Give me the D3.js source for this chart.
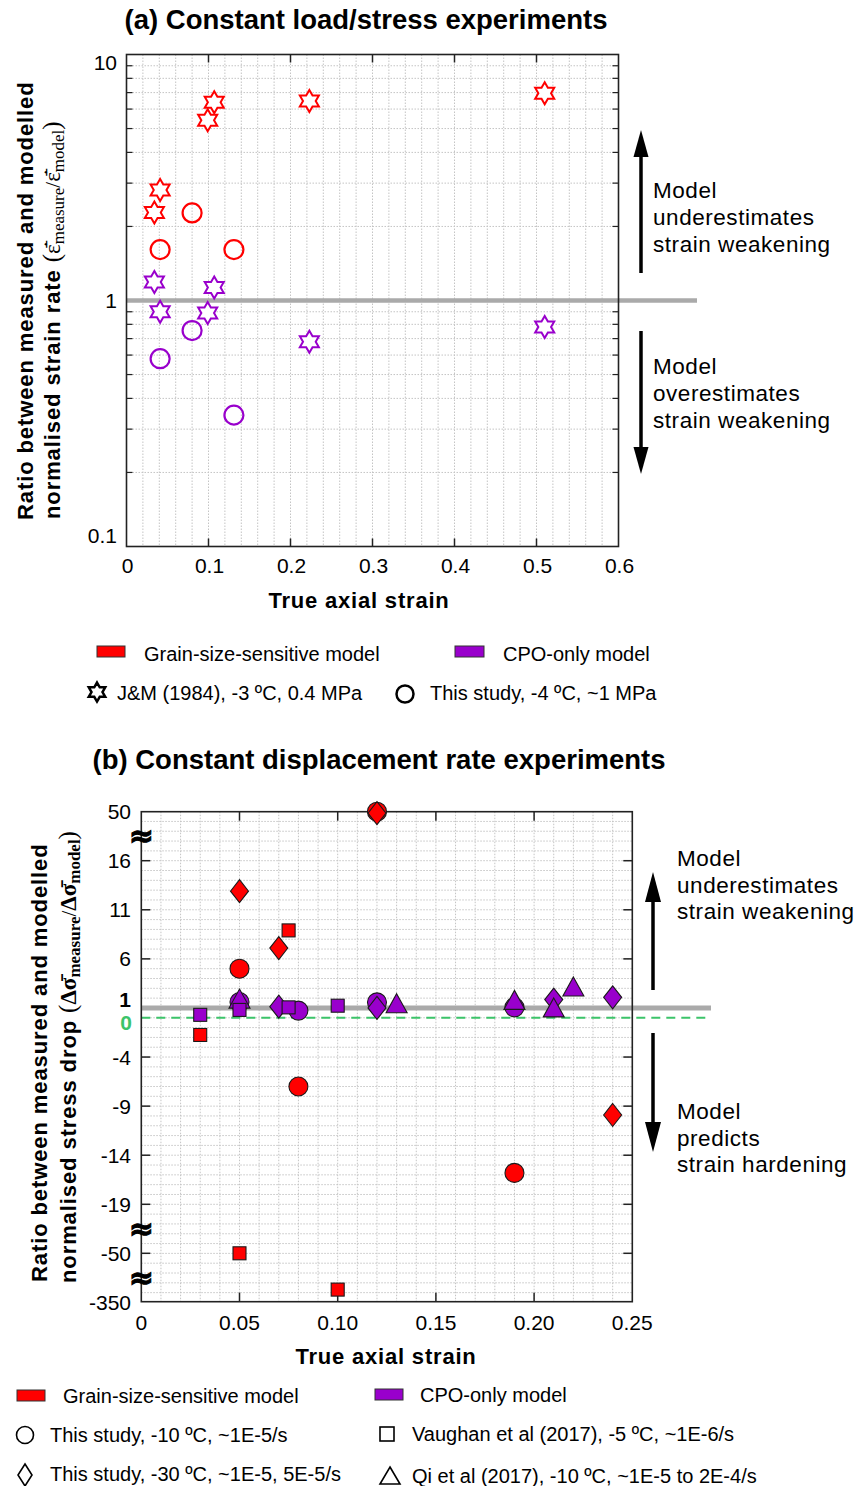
<!DOCTYPE html>
<html>
<head>
<meta charset="utf-8">
<script src="https://cdn.jsdelivr.net/npm/d3@7"></script>
<style>
  body { margin: 0; background: #fff; }
  svg { display: block; }
  text { font-family: "Liberation Sans", Arial, Helvetica, sans-serif; fill: #000; }
</style>
</head>
<body>
<svg id="chart" width="864" height="1486"></svg>
<script>
// ---------- Panel (a): constant load / stress experiments ----------
const jmStrain      = [0.034, 0.041, 0.099, 0.107, 0.223, 0.510];   // J&M (1984)
const jmGss         = [2.28, 2.81, 5.41, 6.39, 6.47, 6.95];
const jmCpo         = [1.19, 0.90, 0.89, 1.13, 0.68, 0.78];
const loadStrain    = [0.041, 0.080, 0.131];                        // this study, -4 ºC
const loadGss       = [1.61, 2.27, 1.61];
const loadCpo       = [0.58, 0.755, 0.342];
const aXTicks       = [0, 0.1, 0.2, 0.3, 0.4, 0.5, 0.6];
const aYTicks       = [0.1, 1, 10];

// ---------- Panel (b): constant displacement rate experiments ----------
const circStrainGss = [0.05, 0.08, 0.12, 0.19];                     // this study, -10 ºC
const circGss       = [5, -7, 50, -15.8];
const circStrainCpo = [0.05, 0.08, 0.12, 0.19];
const circCpo       = [1.6, 0.73, 1.57, 1.06];
const diamStrainGss = [0.05, 0.07, 0.12, 0.24];                     // this study, -30 ºC
const diamGss       = [12.9, 7.1, 49, -9.9];
const diamStrainCpo = [0.07, 0.12, 0.21, 0.24];
const diamCpo       = [1.13, 1.0, 1.85, 2.08];
const sqStrainGss   = [0.03, 0.05, 0.075, 0.10];                    // Vaughan et al (2017)
const sqGss         = [-1.75, -50, 8.9, -275];
const sqStrainCpo   = [0.03, 0.05, 0.075, 0.10];
const sqCpo         = [0.3, 0.8, 1.06, 1.23];
const triStrainCpo  = [0.05, 0.13, 0.19, 0.21, 0.22];               // Qi et al (2017)
const triCpo        = [1.7, 1.23, 1.57, 0.8, 2.93];
const bXTicks       = [0, 0.05, 0.10, 0.15, 0.20, 0.25];
const bXLabels      = ["0", "0.05", "0.10", "0.15", "0.20", "0.25"];
const bYTicks       = [50, 16, 11, 6, 1, -4, -9, -14, -19, -50, -350];
const bBreaks       = [33, -34.5, -200];

const RED = "#ff0000", PURPLE = "#9900cc", GREY = "#aaaaaa", GREEN = "#3cc46a";
const svg = d3.select("#chart");

function hexagram(cx, cy, R) {
  const r = R / Math.sqrt(3), p = d3.path();
  for (let k = 0; k < 12; k++) {
    const a = -Math.PI / 2 + k * Math.PI / 6, rr = k % 2 ? r : R;
    const x = cx + rr * Math.cos(a), y = cy + rr * Math.sin(a);
    k ? p.lineTo(x, y) : p.moveTo(x, y);
  }
  p.closePath();
  return p.toString();
}
function arrow(g, x, y0, y1, headLen, headW) {
  const dir = Math.sign(y1 - y0);
  g.append("line").attr("x1", x).attr("x2", x).attr("y1", y0).attr("y2", y1 - dir * headLen)
    .attr("stroke", "#000").attr("stroke-width", 3.5);
  g.append("path").attr("d", `M${x},${y1}L${x - headW / 2},${y1 - dir * headLen}L${x + headW / 2},${y1 - dir * headLen}Z`)
    .attr("fill", "#000");
}
function multiline(g, x, y, lines, lh, size) {
  const t = g.append("text").attr("x", x).attr("y", y).attr("font-size", size).attr("letter-spacing", 0.55);
  lines.forEach((s, i) => t.append("tspan").attr("x", x).attr("dy", i ? lh : 0).text(s));
}
const gridStyle = sel => sel.attr("stroke", "#c4c4c4").attr("stroke-width", 1).attr("stroke-dasharray", "1.5,1.5");

// =================== PANEL A ===================
const ax = d3.scaleLinear().domain([0, 0.6]).range([126.5, 618.5]);
const ay = d3.scaleLog().domain([0.1, 10]).range([546.5, 54.5]);
const gA = svg.append("g");

gA.append("text").attr("x", 366).attr("y", 29).attr("text-anchor", "middle")
  .attr("font-size", 27.5).attr("font-weight", "bold").text("(a) Constant load/stress experiments");

// grid
const aVGrid = d3.range(1, 30).map(i => i * 0.02);
gA.selectAll(".avg").data(aVGrid).join("line").call(gridStyle)
  .attr("x1", d => ax(d)).attr("x2", d => ax(d)).attr("y1", ay(10)).attr("y2", ay(0.1));
const aMinor = [0.1, 1].flatMap(dec => d3.range(2, 10).map(m => m * dec));
gA.selectAll(".ahg").data(aMinor).join("line").call(gridStyle)
  .attr("x1", ax(0)).attr("x2", ax(0.6)).attr("y1", d => ay(d)).attr("y2", d => ay(d));

// ticks (inward, both sides)
gA.selectAll(".aytl").data(aMinor).join("line").attr("stroke", "#222").attr("stroke-width", 1.2)
  .attr("x1", ax(0)).attr("x2", ax(0) + 6).attr("y1", d => ay(d)).attr("y2", d => ay(d));
gA.selectAll(".aytr").data(aMinor).join("line").attr("stroke", "#222").attr("stroke-width", 1.2)
  .attr("x1", ax(0.6)).attr("x2", ax(0.6) - 6).attr("y1", d => ay(d)).attr("y2", d => ay(d));
const aXInner = aXTicks.slice(1, -1);
gA.selectAll(".axtb").data(aXInner).join("line").attr("stroke", "#222").attr("stroke-width", 1.5)
  .attr("x1", d => ax(d)).attr("x2", d => ax(d)).attr("y1", ay(0.1)).attr("y2", ay(0.1) - 8);
gA.selectAll(".axtt").data(aXInner).join("line").attr("stroke", "#222").attr("stroke-width", 1.5)
  .attr("x1", d => ax(d)).attr("x2", d => ax(d)).attr("y1", ay(10)).attr("y2", ay(10) + 8);

// reference line at ratio 1
gA.append("line").attr("x1", ax(0)).attr("x2", 697).attr("y1", ay(1)).attr("y2", ay(1))
  .attr("stroke", GREY).attr("stroke-width", 4.5);

// frame
gA.append("rect").attr("x", ax(0)).attr("y", ay(10)).attr("width", ax(0.6) - ax(0)).attr("height", ay(0.1) - ay(10))
  .attr("fill", "none").attr("stroke", "#222").attr("stroke-width", 1.6);

// tick labels
gA.selectAll(".axl").data(aXTicks).join("text").attr("x", d => ax(d) + 1).attr("y", 573)
  .attr("text-anchor", "middle").attr("font-size", 21).text(d => d3.format("~g")(d));
const aYOff = {10: 15, 1: 7.5, 0.1: -4};
gA.selectAll(".ayl").data(aYTicks).join("text").attr("x", 117).attr("y", d => ay(d) + aYOff[d])
  .attr("text-anchor", "end").attr("font-size", 21).text(d => d3.format("~g")(d));

// axis titles
gA.append("text").attr("x", 359).attr("y", 608).attr("text-anchor", "middle")
  .attr("font-size", 22).attr("font-weight", "bold").attr("letter-spacing", 0.8).text("True axial strain");
gA.append("text").attr("transform", "translate(33,520) rotate(-90)")
  .attr("font-size", 22).attr("font-weight", "bold").attr("letter-spacing", 0.9)
  .text("Ratio between measured and modelled");
const aT2 = gA.append("text").attr("transform", "translate(60,519) rotate(-90)")
  .attr("font-size", 22).attr("font-weight", "bold").attr("letter-spacing", 0.9);
aT2.append("tspan").text("normalised strain rate ");
function serifPart(t, txt, size, dy) {
  return t.append("tspan").text(txt).attr("font-size", size).attr("dy", dy)
    .style("font-family", "'Liberation Serif','DejaVu Serif',serif")
    .style("font-weight", "normal").attr("letter-spacing", 0);
}
serifPart(aT2, "(", 25, 0);
serifPart(aT2, "\u03B5\u0307\u0304", 23, 0);
serifPart(aT2, "measure", 17, 4);
serifPart(aT2, "/", 21, -4);
serifPart(aT2, "\u03B5\u0307\u0304", 23, 0);
serifPart(aT2, "model", 17, 4);
serifPart(aT2, ")", 25, -4);

// markers: stars (J&M) and circles (this study)
const aStars = jmStrain.flatMap((s, i) => [{x: s, y: jmGss[i], c: RED}, {x: s, y: jmCpo[i], c: PURPLE}]);
gA.selectAll(".star").data(aStars).join("path")
  .attr("d", d => hexagram(ax(d.x), ay(d.y), 11))
  .attr("fill", "#fff").attr("stroke", d => d.c).attr("stroke-width", 2);
const aCircles = loadStrain.flatMap((s, i) => [{x: s, y: loadGss[i], c: RED}, {x: s, y: loadCpo[i], c: PURPLE}]);
gA.selectAll(".circ").data(aCircles).join("circle")
  .attr("cx", d => ax(d.x)).attr("cy", d => ay(d.y)).attr("r", 9.5)
  .attr("fill", "none").attr("stroke", d => d.c).attr("stroke-width", 2.2);

// annotations
arrow(gA, 641, 273, 130, 27, 15);
arrow(gA, 641, 331, 474, 27, 15);
multiline(gA, 653, 198, ["Model", "underestimates", "strain weakening"], 27, 22.5);
multiline(gA, 653, 374, ["Model", "overestimates", "strain weakening"], 27, 22.5);

// legend
gA.append("rect").attr("x", 97).attr("y", 646).attr("width", 28).attr("height", 11).attr("fill", RED).attr("stroke", "#333");
gA.append("text").attr("x", 144).attr("y", 661).attr("font-size", 20).text("Grain-size-sensitive model");
gA.append("rect").attr("x", 455).attr("y", 646).attr("width", 29).attr("height", 11).attr("fill", PURPLE).attr("stroke", "#333");
gA.append("text").attr("x", 503).attr("y", 661).attr("font-size", 20).text("CPO-only model");
gA.append("path").attr("d", hexagram(97, 692, 9.5)).attr("fill", "#fff").attr("stroke", "#000").attr("stroke-width", 2.5);
gA.append("text").attr("x", 117).attr("y", 700).attr("font-size", 20).text("J&M (1984), -3 ºC, 0.4 MPa");
gA.append("circle").attr("cx", 405).attr("cy", 694).attr("r", 8.5).attr("fill", "none").attr("stroke", "#000").attr("stroke-width", 2.5);
gA.append("text").attr("x", 430).attr("y", 700).attr("font-size", 20).text("This study, -4 ºC, ~1 MPa");

// =================== PANEL B ===================
const bx = d3.scaleLinear().domain([0, 0.25]).range([141.3, 632.3]);
const by = d3.scaleLinear().domain([-350, -50, -19, 16, 50]).range([1301.7, 1253.3, 1204.3, 860.7, 811.7]);
const byLin = d3.scaleLinear().domain([-19, 16]).range([1204.3, 860.7]);   // unit spacing of the minor grid
const gB = svg.append("g");

gB.append("text").attr("x", 379).attr("y", 769).attr("text-anchor", "middle")
  .attr("font-size", 27.5).attr("font-weight", "bold").text("(b) Constant displacement rate experiments");

// grid
const bVGrid = d3.range(1, 25).map(i => i * 0.01);
gB.selectAll(".bvg").data(bVGrid).join("line").call(gridStyle)
  .attr("x1", d => bx(d)).attr("x2", d => bx(d)).attr("y1", by(50)).attr("y2", by(-350));
const bHGrid = d3.range(-90, 40).filter(v => byLin(v) > by(50) + 1 && byLin(v) < by(-350) - 1);
gB.selectAll(".bhg").data(bHGrid).join("line").call(gridStyle)
  .attr("x1", bx(0)).attr("x2", bx(0.25)).attr("y1", d => byLin(d)).attr("y2", d => byLin(d));

// ticks
const bYInner = bYTicks.slice(1, -1);
gB.selectAll(".bytl").data(bYInner).join("line").attr("stroke", "#222").attr("stroke-width", 1.5)
  .attr("x1", bx(0)).attr("x2", bx(0) + 9).attr("y1", d => by(d)).attr("y2", d => by(d));
gB.selectAll(".bytr").data(bYInner).join("line").attr("stroke", "#222").attr("stroke-width", 1.5)
  .attr("x1", bx(0.25)).attr("x2", bx(0.25) - 9).attr("y1", d => by(d)).attr("y2", d => by(d));
const bXInner = bXTicks.slice(1, -1);
gB.selectAll(".bxtb").data(bXInner).join("line").attr("stroke", "#222").attr("stroke-width", 1.5)
  .attr("x1", d => bx(d)).attr("x2", d => bx(d)).attr("y1", by(-350)).attr("y2", by(-350) - 9);
gB.selectAll(".bxtt").data(bXInner).join("line").attr("stroke", "#222").attr("stroke-width", 1.5)
  .attr("x1", d => bx(d)).attr("x2", d => bx(d)).attr("y1", by(50)).attr("y2", by(50) + 9);

// reference lines: ratio 1 and zero
gB.append("line").attr("x1", bx(0)).attr("x2", 711).attr("y1", by(1)).attr("y2", by(1))
  .attr("stroke", GREY).attr("stroke-width", 5);
gB.append("line").attr("x1", bx(0)).attr("x2", 711).attr("y1", by(0)).attr("y2", by(0))
  .attr("stroke", GREEN).attr("stroke-width", 2).attr("stroke-dasharray", "9,6");

// frame
gB.append("rect").attr("x", bx(0)).attr("y", by(50)).attr("width", bx(0.25) - bx(0)).attr("height", by(-350) - by(50))
  .attr("fill", "none").attr("stroke", "#222").attr("stroke-width", 1.6);

// axis break marks
gB.selectAll(".brk").data(bBreaks).join("text").attr("x", bx(0)).attr("y", d => by(d) + 10)
  .attr("text-anchor", "middle").style("font-family", "'DejaVu Sans', sans-serif")
  .attr("font-size", 30).attr("font-weight", "bold")
  .attr("stroke", "#000").attr("stroke-width", 1).text("\u2248");

// tick labels
gB.selectAll(".bxl").data(bXTicks).join("text").attr("x", d => bx(d)).attr("y", 1330)
  .attr("text-anchor", "middle").attr("font-size", 21).text((d, i) => bXLabels[i]);
const bYOff = {50: 7.5, 1: -0.5, [-350]: 8.5};
gB.selectAll(".byl").data(bYTicks).join("text").attr("x", 131)
  .attr("y", d => by(d) + (bYOff[d] !== undefined ? bYOff[d] : 7.5))
  .attr("text-anchor", "end").attr("font-size", 21).attr("font-weight", d => d === 1 ? "bold" : "normal")
  .text(d => d);
gB.append("text").attr("x", 132).attr("y", by(0) + 12).attr("text-anchor", "end")
  .attr("font-size", 21).attr("font-weight", "bold").style("fill", GREEN).text("0");

// axis titles
gB.append("text").attr("x", 386).attr("y", 1364).attr("text-anchor", "middle")
  .attr("font-size", 22).attr("font-weight", "bold").attr("letter-spacing", 0.8).text("True axial strain");
gB.append("text").attr("transform", "translate(47,1282) rotate(-90)")
  .attr("font-size", 22).attr("font-weight", "bold").attr("letter-spacing", 0.9)
  .text("Ratio between measured and modelled");
const bT2 = gB.append("text").attr("transform", "translate(76,1283) rotate(-90)")
  .attr("font-size", 22).attr("font-weight", "bold").attr("letter-spacing", 0.9);
bT2.append("tspan").text("normalised stress drop ");
serifPart(bT2, "(", 25, 0);
serifPart(bT2, "\u0394\u03C3\u0304", 23, 0).style("font-weight", "bold");
serifPart(bT2, "measure", 17, 4).style("font-weight", "bold");
serifPart(bT2, "/", 21, -4);
serifPart(bT2, "\u0394\u03C3\u0304", 23, 0).style("font-weight", "bold");
serifPart(bT2, "model", 17, 4).style("font-weight", "bold");
serifPart(bT2, ")", 25, -4);

// markers
const pts = (xs, ys, c) => xs.map((x, i) => ({x, y: ys[i], c}));
const circles = [...pts(circStrainGss, circGss, RED), ...pts(circStrainCpo, circCpo, PURPLE)];
const diamonds = [...pts(diamStrainGss, diamGss, RED), ...pts(diamStrainCpo, diamCpo, PURPLE)];
const triangles = pts(triStrainCpo, triCpo, PURPLE);
const squares = [...pts(sqStrainGss, sqGss, RED), ...pts(sqStrainCpo, sqCpo, PURPLE)];
const mk = sel => sel.attr("fill", d => d.c).attr("stroke", "#1a1a1a").attr("stroke-width", 1.1);

gB.selectAll(".bc").data(circles).join("circle").call(mk)
  .attr("cx", d => bx(d.x)).attr("cy", d => by(d.y)).attr("r", 9.5);
gB.selectAll(".bd").data(diamonds).join("path").call(mk)
  .attr("d", d => { const x = bx(d.x), y = by(d.y); return `M${x},${y - 11.5}L${x + 9},${y}L${x},${y + 11.5}L${x - 9},${y}Z`; });
gB.selectAll(".bt").data(triangles).join("path").call(mk)
  .attr("d", d => { const x = bx(d.x), y = by(d.y); return `M${x},${y - 12}L${x + 10.5},${y + 7}L${x - 10.5},${y + 7}Z`; });
gB.selectAll(".bs").data(squares).join("rect").call(mk)
  .attr("x", d => bx(d.x) - 6.5).attr("y", d => by(d.y) - 6.5).attr("width", 13).attr("height", 13);

// annotations
arrow(gB, 653, 990, 872, 30, 16);
arrow(gB, 653, 1033, 1152, 30, 16);
multiline(gB, 677, 866, ["Model", "underestimates", "strain weakening"], 26.5, 22.5);
multiline(gB, 677, 1119, ["Model", "predicts", "strain hardening"], 26.5, 22.5);

// legend
gB.append("rect").attr("x", 17).attr("y", 1390).attr("width", 28).attr("height", 11).attr("fill", RED).attr("stroke", "#333");
gB.append("text").attr("x", 63).attr("y", 1403).attr("font-size", 20).text("Grain-size-sensitive model");
gB.append("rect").attr("x", 375).attr("y", 1389).attr("width", 28).attr("height", 11).attr("fill", PURPLE).attr("stroke", "#333");
gB.append("text").attr("x", 420).attr("y", 1402).attr("font-size", 20).text("CPO-only model");
gB.append("circle").attr("cx", 25).attr("cy", 1435).attr("r", 8.5).attr("fill", "none").attr("stroke", "#000").attr("stroke-width", 1.6);
gB.append("text").attr("x", 50).attr("y", 1442).attr("font-size", 20).text("This study, -10 ºC, ~1E-5/s");
gB.append("rect").attr("x", 380).attr("y", 1427).attr("width", 14).attr("height", 14).attr("fill", "none").attr("stroke", "#000").attr("stroke-width", 1.6);
gB.append("text").attr("x", 412).attr("y", 1441).attr("font-size", 20).text("Vaughan et al (2017), -5 ºC, ~1E-6/s");
gB.append("path").attr("d", "M25,1464L32,1475L25,1486L18,1475Z").attr("fill", "none").attr("stroke", "#000").attr("stroke-width", 1.6);
gB.append("text").attr("x", 50).attr("y", 1481).attr("font-size", 20).text("This study, -30 ºC, ~1E-5, 5E-5/s");
gB.append("path").attr("d", "M390,1467L400,1484L380,1484Z").attr("fill", "none").attr("stroke", "#000").attr("stroke-width", 1.6);
gB.append("text").attr("x", 412).attr("y", 1483).attr("font-size", 20).text("Qi et al (2017), -10 ºC, ~1E-5 to 2E-4/s");
</script>
</body>
</html>
